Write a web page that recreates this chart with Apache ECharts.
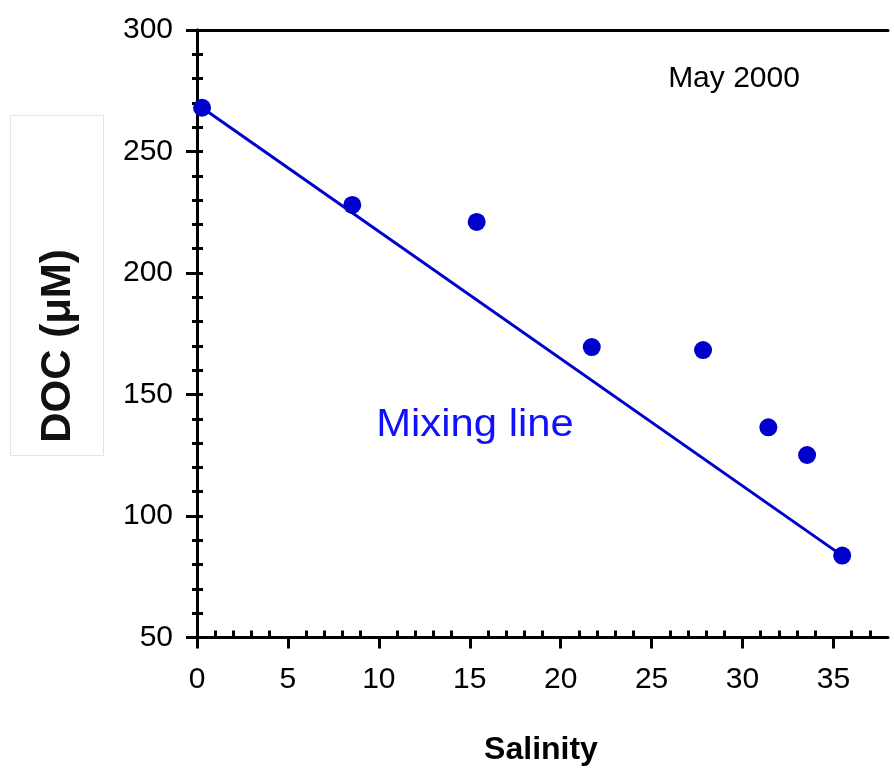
<!DOCTYPE html>
<html>
<head>
<meta charset="utf-8">
<script src="https://cdn.jsdelivr.net/npm/echarts@6/dist/echarts.min.js"></script>
<style>
html,body{margin:0;padding:0;background:#fff;}
#chart{width:894px;height:771px;}
</style>
</head>
<body>
<div id="chart"></div>
<script>
// Data
const salinity = [0.28, 8.54, 15.38, 21.71, 27.83, 31.42, 33.55, 35.48];
const doc = [268, 228, 221, 169.5, 168.3, 136.5, 125.1, 83.7];
// Mixing line joins the river end-member and the sea end-member
const mixingX = [salinity[0], salinity[salinity.length - 1]];
const mixingY = [doc[0], doc[doc.length - 1]];
const xMin = 0, xMax = 38, xStep = 5;
const yMin = 50, yMax = 300, yStep = 50;
const xTitle = 'Salinity';
const yTitle = 'DOC (μM)';
const noteText = 'May 2000';
const lineText = 'Mixing line';

const FONT = '"Liberation Sans", Arial, sans-serif';
const minorX = [];
for (let v = xMin + 1; v < xMax; v++) { if (v % xStep !== 0) minorX.push(v); }

const chart = echarts.init(document.getElementById('chart'));
const axisLine = { show: true, lineStyle: { color: '#000', width: 3 } };

chart.setOption({
  animation: false,
  backgroundColor: '#fff',
  grid: { left: 197, top: 30, right: 6, bottom: 133.5, containLabel: false },
  xAxis: [
    {
      type: 'value', position: 'bottom', min: xMin, max: xMax, interval: xStep,
      axisLine: axisLine,
      axisTick: { show: true, inside: false, length: 11, lineStyle: { color: '#000', width: 3 } },
      axisLabel: { show: true, margin: 27, color: '#000', fontSize: 30, fontFamily: FONT,
        showMaxLabel: false },
      splitLine: { show: false }
    },
    {
      type: 'value', position: 'top', min: xMin, max: xMax, interval: xStep,
      axisLine: axisLine, axisTick: { show: false }, axisLabel: { show: false },
      splitLine: { show: false }
    },
    {
      type: 'value', position: 'bottom', min: xMin, max: xMax, interval: xStep,
      axisLine: { show: false },
      axisTick: { show: true, inside: true, length: 7, customValues: minorX,
        lineStyle: { color: '#000', width: 3 } },
      axisLabel: { show: false }, splitLine: { show: false }
    }
  ],
  yAxis: [
    {
      type: 'value', position: 'left', min: yMin, max: yMax, interval: yStep,
      axisLine: axisLine,
      axisTick: { show: true, inside: false, length: 11, lineStyle: { color: '#000', width: 3 } },
      minorTick: { show: true, splitNumber: 5, length: 5, lineStyle: { color: '#000', width: 3 } },
      axisLabel: { show: true, margin: 24, color: '#000', fontSize: 30, fontFamily: FONT,
        padding: [0, 0, 11, 0] },
      splitLine: { show: false }, minorSplitLine: { show: false }
    },
    {
      type: 'value', position: 'right', min: yMin, max: yMax, interval: 10,
      axisLine: axisLine,
      axisTick: { show: true, inside: false, length: 6, lineStyle: { color: '#000', width: 3 } },
      axisLabel: { show: false }, splitLine: { show: false }
    }
  ],
  series: [
    {
      type: 'line', xAxisIndex: 0, yAxisIndex: 0,
      data: mixingX.map((x, i) => [x, mixingY[i]]),
      showSymbol: false, symbol: 'none',
      lineStyle: { color: '#0000cc', width: 3 }, z: 2
    },
    {
      type: 'scatter', xAxisIndex: 0, yAxisIndex: 0,
      data: salinity.map((x, i) => [x, doc[i]]),
      symbol: 'circle', symbolSize: 18,
      itemStyle: { color: '#0000cc', opacity: 1 }, z: 3
    }
  ],
  graphic: [
    { type: 'rect', left: 10, top: 115, shape: { width: 93, height: 340 },
      style: { fill: '#fff', stroke: '#e4e4e4', lineWidth: 1 }, z: 0 },
    { type: 'text', x: 58, y: 346, rotation: Math.PI / 2,
      style: { text: yTitle, font: 'bold 42px ' + FONT, fill: '#111',
        textAlign: 'center', textVerticalAlign: 'middle' }, z: 5 },
    { type: 'text', x: 541, y: 750,
      style: { text: xTitle, font: 'bold 32px ' + FONT, fill: '#000',
        textAlign: 'center', textVerticalAlign: 'middle' }, z: 5 },
    { type: 'text', x: 734, y: 79,
      style: { text: noteText, font: '30px ' + FONT, fill: '#000',
        textAlign: 'center', textVerticalAlign: 'middle' }, z: 5 },
    { type: 'text', x: 475, y: 426, scaleX: 1.1,
      style: { text: lineText, font: '38px ' + FONT, fill: '#1010ff',
        textAlign: 'center', textVerticalAlign: 'middle' }, z: 5 }
  ]
});
</script>
</body>
</html>
